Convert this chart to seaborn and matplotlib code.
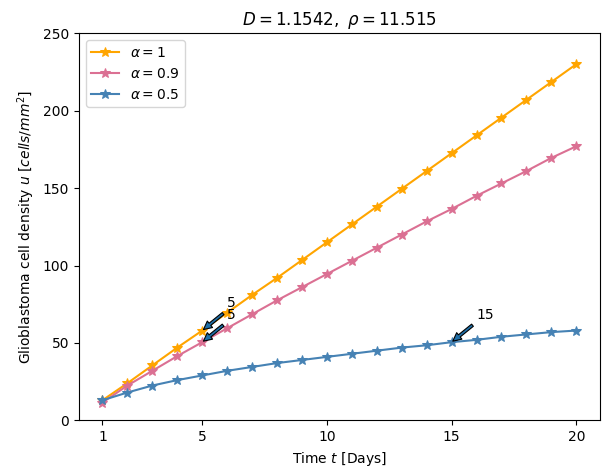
import matplotlib
matplotlib.use("Agg")
import matplotlib.pyplot as plt
import seaborn as sns
import pandas as pd

days = list(range(1, 21))
u_alpha1 = [13, 24, 35.5, 47, 58, 69.5, 81, 92, 103.5, 115, 126.5, 138, 149.5, 161, 172.5, 184, 195.5, 207, 218.5, 230]
u_alpha09 = [11.5, 22.5, 32, 41.5, 50.5, 59.5, 68.5, 77.5, 86, 94.5, 103, 111.5, 120, 128.5, 136.5, 145, 153, 161, 169.5, 177]
u_alpha05 = [13, 18, 22.5, 26, 29, 32, 34.5, 37, 39, 41, 43, 45, 47, 48.5, 50.5, 52, 54, 55.5, 57, 58]
labels = [r"$\alpha = 1$", r"$\alpha = 0.9$", r"$\alpha = 0.5$"]
colors = ["#FFA500", "#DB7093", "#4682B4"]

fig, ax = plt.subplots(figsize=(6.06, 4.75), dpi=100)
for vals, lab, col in zip([u_alpha1, u_alpha09, u_alpha05], labels, colors):
    df = pd.DataFrame({"t": days, "u": vals})
    sns.lineplot(data=df, x="t", y="u", ax=ax, color=col, marker="*",
                 markeredgecolor=col, markersize=7, linewidth=1.5, label=lab)

arrow = dict(facecolor="#1f6fa8", edgecolor="black", shrink=0.05, width=2, headwidth=6, headlength=6, linewidth=0.8)
ax.annotate("5", xy=(5, u_alpha1[4]), xytext=(6, u_alpha1[4] + 15), arrowprops=arrow)
ax.annotate("5", xy=(5, u_alpha09[4]), xytext=(6, u_alpha09[4] + 15), arrowprops=arrow)
ax.annotate("15", xy=(15, u_alpha05[14]), xytext=(16, u_alpha05[14] + 15), arrowprops=arrow)

ax.set_xticks([1, 5, 10, 15, 20])
ax.set_ylim(0, 250)
ax.set_xlabel(r"Time $t$ [Days]")
ax.set_ylabel(r"Glioblastoma cell density $u$ [$cells/mm^2$]")
ax.set_title(r"$D = 1.1542,\ \rho = 11.515$")
ax.legend(loc="upper left")
plt.subplots_adjust(left=0.13, right=0.99, top=0.93, bottom=0.115)
fig.savefig("out.png", dpi=100)
